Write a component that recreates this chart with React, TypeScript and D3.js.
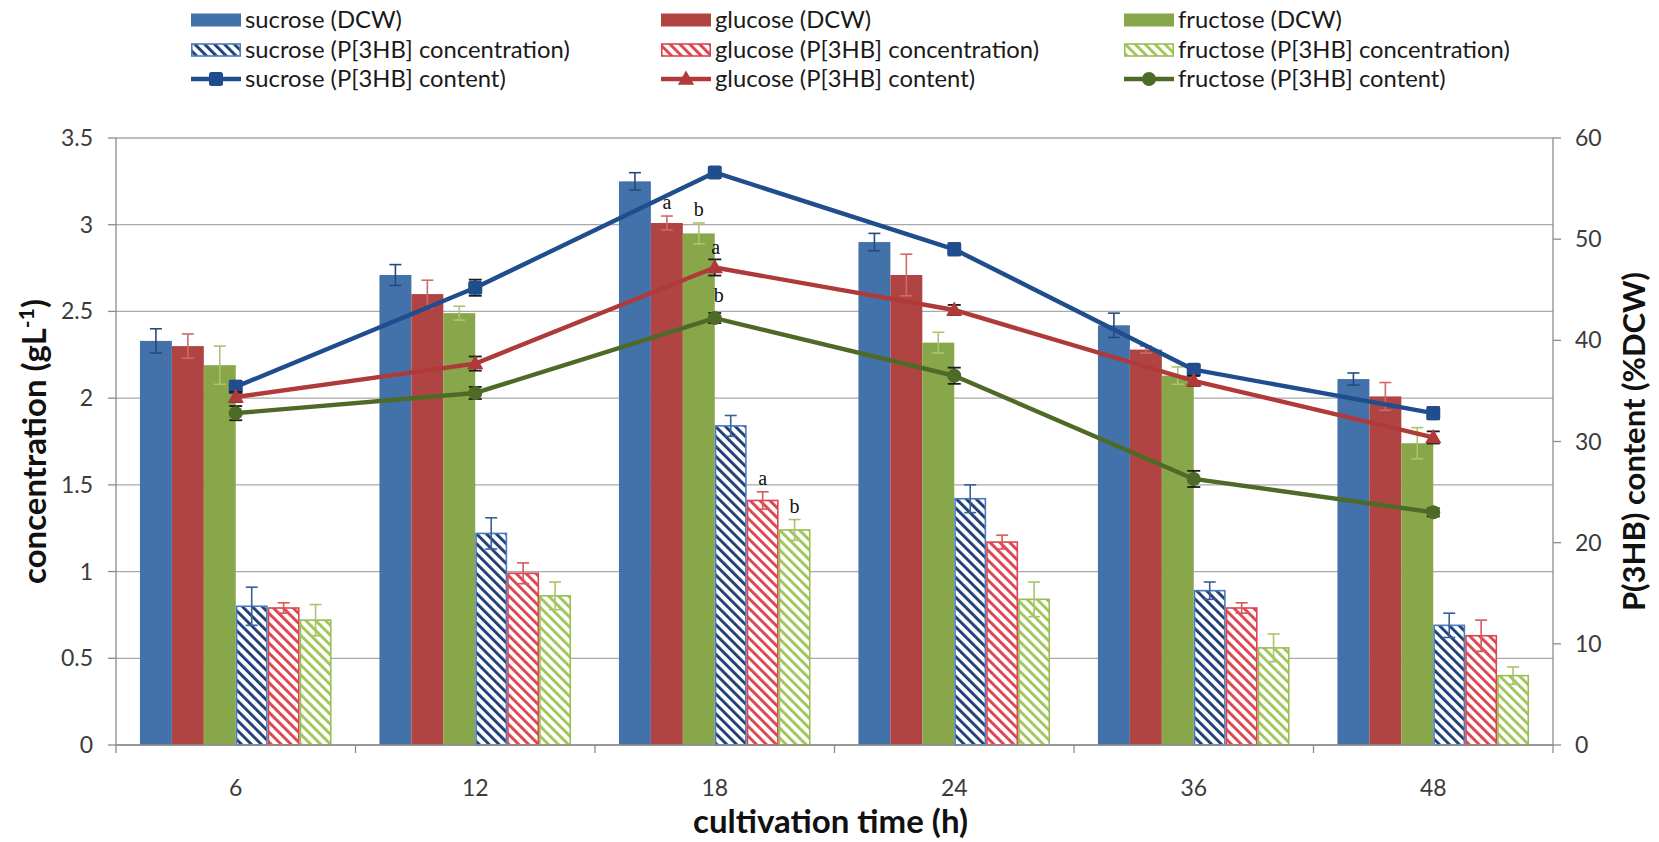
import React from 'react';
import * as d3 from 'd3';

// cultivation time (h)
const categories = ['6', '12', '18', '24', '36', '48'];

// dry cell weight (g/L)
const sucroseDCW = [2.33, 2.71, 3.25, 2.9, 2.42, 2.11];
const sucroseDCWErr = [0.07, 0.06, 0.05, 0.05, 0.07, 0.035];
const glucoseDCW = [2.3, 2.6, 3.01, 2.71, 2.28, 2.01];
const glucoseDCWErr = [0.07, 0.08, 0.04, 0.12, 0.02, 0.08];
const fructoseDCW = [2.19, 2.49, 2.95, 2.32, 2.13, 1.74];
const fructoseDCWErr = [0.11, 0.04, 0.06, 0.06, 0.05, 0.09];

// P[3HB] concentration (g/L)
const sucroseConc = [0.8, 1.22, 1.84, 1.42, 0.89, 0.69];
const sucroseConcErr = [0.11, 0.09, 0.06, 0.08, 0.05, 0.07];
const glucoseConc = [0.79, 0.99, 1.41, 1.17, 0.79, 0.63];
const glucoseConcErr = [0.03, 0.06, 0.05, 0.04, 0.03, 0.09];
const fructoseConc = [0.72, 0.86, 1.24, 0.84, 0.56, 0.4];
const fructoseConcErr = [0.09, 0.08, 0.06, 0.1, 0.08, 0.05];

// P[3HB] content (%DCW)
const sucroseContent = [35.4, 45.2, 56.6, 49.0, 37.1, 32.8];
const sucroseContentErr = [0.6, 0.8, 0.5, 0.6, 0.5, 0.6];
const glucoseContent = [34.4, 37.7, 47.2, 43.0, 36.0, 30.4];
const glucoseContentErr = [0.5, 0.7, 0.8, 0.5, 0.5, 0.6];
const fructoseContent = [32.8, 34.8, 42.2, 36.5, 26.3, 23.0];
const fructoseContentErr = [0.7, 0.6, 0.5, 0.8, 0.8, 0.4];

const leftTicks = [0, 0.5, 1, 1.5, 2, 2.5, 3, 3.5];
const rightTicks = [0, 10, 20, 30, 40, 50, 60];

// significance letters: [kind, series index, category index, text]
const letters: [string, number, number, string][] = [
  ['bar', 1, 2, 'a'],
  ['bar', 2, 2, 'b'],
  ['bar', 4, 2, 'a'],
  ['bar', 5, 2, 'b'],
  ['line', 1, 2, 'a'],
  ['line', 2, 2, 'b'],
];

const W = 1659;
const H = 842;
const plot = { left: 116, right: 1553, top: 138, bottom: 745 };
const FONT = 'Lato, "Open Sans", sans-serif';

const barSeries = [
  { name: 'sucrose (DCW)', values: sucroseDCW, err: sucroseDCWErr, fill: '#4371AA', hatch: null, stroke: null, errColor: '#28497a' },
  { name: 'glucose (DCW)', values: glucoseDCW, err: glucoseDCWErr, fill: '#B04443', hatch: null, stroke: null, errColor: '#cc6a6a' },
  { name: 'fructose (DCW)', values: fructoseDCW, err: fructoseDCWErr, fill: '#88A74B', hatch: null, stroke: null, errColor: '#a9c472' },
  { name: 'sucrose (P[3HB] concentration)', values: sucroseConc, err: sucroseConcErr, fill: null, hatch: '#1F3E78', stroke: '#4A7CC0', errColor: '#3a5f98' },
  { name: 'glucose (P[3HB] concentration)', values: glucoseConc, err: glucoseConcErr, fill: null, hatch: '#DC4550', stroke: '#DC4550', errColor: '#d65a5a' },
  { name: 'fructose (P[3HB] concentration)', values: fructoseConc, err: fructoseConcErr, fill: null, hatch: '#A2C55A', stroke: '#9ABD55', errColor: '#a8c46c' },
];

const lineSeries = [
  { name: 'sucrose (P[3HB] content)', values: sucroseContent, err: sucroseContentErr, color: '#1F4D8D', marker: 'square' },
  { name: 'glucose (P[3HB] content)', values: glucoseContent, err: glucoseContentErr, color: '#B03A3A', marker: 'triangle' },
  { name: 'fructose (P[3HB] content)', values: fructoseContent, err: fructoseContentErr, color: '#4E6A27', marker: 'circle' },
];

function Marker({ type, cx, cy, color }: { type: string; cx: number; cy: number; color: string }) {
  if (type === 'square') return <rect x={cx - 7} y={cy - 7} width={14} height={14} rx={2.5} fill={color} />;
  if (type === 'triangle') {
    const s = d3.symbol().type(d3.symbolTriangle).size(115)();
    return <path d={s || ''} transform={`translate(${cx},${cy + 1})`} fill={color} />;
  }
  return <circle cx={cx} cy={cy} r={7} fill={color} />;
}

function ErrorBar({ cx, y0, y1, color, w = 12, sw = 1.6 }: { cx: number; y0: number; y1: number; color: string; w?: number; sw?: number }) {
  return (
    <g stroke={color} strokeWidth={sw}>
      <line x1={cx} x2={cx} y1={y0} y2={y1} />
      <line x1={cx - w / 2} x2={cx + w / 2} y1={y0} y2={y0} />
      <line x1={cx - w / 2} x2={cx + w / 2} y1={y1} y2={y1} />
    </g>
  );
}

export default function App() {
  const x = d3.scaleBand<string>().domain(categories).range([plot.left, plot.right]).paddingInner(0.2).paddingOuter(0.1);
  const inner = d3.scaleBand<number>().domain(d3.range(barSeries.length)).range([0, x.bandwidth()]);
  const yL = d3.scaleLinear().domain([0, 3.5]).range([plot.bottom, plot.top]);
  const yR = d3.scaleLinear().domain([0, 60]).range([plot.bottom, plot.top]);
  const center = (c: string) => (x(c) as number) + x.bandwidth() / 2;
  const step = x.step();
  const bw = inner.bandwidth();

  const line = d3
    .line<number>()
    .x((_, i) => center(categories[i]))
    .y((v) => yR(v));

  const legendCols = [191, 661, 1124];
  const legendRows = [20, 50, 79];

  return (
    <svg width={W} height={H} style={{ position: 'absolute', left: 0, top: 0, background: '#fff' }} fontFamily={FONT}>
      <defs>
        {barSeries.map((s, i) =>
          s.hatch ? (
            <pattern key={i} id={`hatch${i}`} patternUnits="userSpaceOnUse" width={7} height={7} patternTransform="rotate(-45)">
              <rect width={7} height={7} fill="#fff" />
              <rect width={2.9} height={7} fill={s.hatch} />
            </pattern>
          ) : null
        )}
      </defs>

      {/* gridlines */}
      {leftTicks.map((t) => (
        <line key={t} x1={plot.left} x2={plot.right} y1={yL(t)} y2={yL(t)} stroke="#a9a9a9" strokeWidth={1.3} />
      ))}

      {/* bars */}
      {barSeries.map((s, si) => (
        <g key={s.name}>
          {s.values.map((v, ci) => {
            const bx = (x(categories[ci]) as number) + (inner(si) as number);
            return s.hatch ? (
              <rect key={ci} x={bx + 0.8} y={yL(v)} width={bw - 1.6} height={yL(0) - yL(v)} fill={`url(#hatch${si})`} stroke={s.stroke as string} strokeWidth={1.6} />
            ) : (
              <rect key={ci} x={bx} y={yL(v)} width={bw} height={yL(0) - yL(v)} fill={s.fill as string} />
            );
          })}
        </g>
      ))}

      {/* bar error bars */}
      {barSeries.map((s, si) => (
        <g key={s.name}>
          {s.values.map((v, ci) => {
            const cx = (x(categories[ci]) as number) + (inner(si) as number) + bw / 2;
            return <ErrorBar key={ci} cx={cx} y0={yL(v + s.err[ci])} y1={yL(v - s.err[ci])} color={s.errColor} />;
          })}
        </g>
      ))}

      {/* content lines */}
      {lineSeries.map((s) => (
        <path key={s.name} d={line(s.values) || ''} fill="none" stroke={s.color} strokeWidth={4.4} strokeLinejoin="round" />
      ))}
      {lineSeries.map((s) => (
        <g key={s.name}>
          {s.values.map((v, ci) => (
            <g key={ci}>
              <ErrorBar cx={center(categories[ci])} y0={yR(v + s.err[ci])} y1={yR(v - s.err[ci])} color="#1c1c1c" w={13} sw={1.8} />
              <Marker type={s.marker} cx={center(categories[ci])} cy={yR(v)} color={s.color} />
            </g>
          ))}
        </g>
      ))}

      {/* significance letters */}
      {letters.map(([kind, si, ci, txt], i) => {
        let lx: number;
        let ly: number;
        if (kind === 'bar') {
          const s = barSeries[si];
          lx = (x(categories[ci]) as number) + (inner(si) as number) + bw / 2;
          ly = yL(s.values[ci] + s.err[ci]) - 7;
        } else {
          const s = lineSeries[si];
          lx = center(categories[ci]) + (si === 2 ? 4 : 1);
          ly = yR(s.values[ci] + s.err[ci]) - (si === 2 ? 11 : 5);
        }
        return (
          <text key={i} x={lx} y={ly} textAnchor="middle" fontFamily='"Liberation Serif", "DejaVu Serif", serif' fontSize={20} fill="#111">
            {txt}
          </text>
        );
      })}

      {/* axes */}
      <g stroke="#8c8c8c" strokeWidth={1.3}>
        <line x1={plot.left} x2={plot.left} y1={plot.top} y2={plot.bottom} />
        <line x1={plot.right} x2={plot.right} y1={plot.top} y2={plot.bottom} />
        <line x1={plot.left} x2={plot.right} y1={plot.bottom} y2={plot.bottom} />
        {leftTicks.map((t) => (
          <line key={`l${t}`} x1={plot.left - 8} x2={plot.left} y1={yL(t)} y2={yL(t)} />
        ))}
        {rightTicks.map((t) => (
          <line key={`r${t}`} x1={plot.right} x2={plot.right + 8} y1={yR(t)} y2={yR(t)} />
        ))}
        {d3.range(categories.length + 1).map((i) => (
          <line key={`x${i}`} x1={plot.left + i * step} x2={plot.left + i * step} y1={plot.bottom} y2={plot.bottom + 8} />
        ))}
      </g>

      {/* tick labels */}
      <g fontSize={23} fill="#3b3b3b">
        {leftTicks.map((t) => (
          <text key={t} x={plot.left - 23} y={yL(t)} dy="0.35em" textAnchor="end">
            {t}
          </text>
        ))}
        {rightTicks.map((t) => (
          <text key={t} x={plot.right + 22} y={yR(t)} dy="0.35em" textAnchor="start">
            {t}
          </text>
        ))}
        {categories.map((c) => (
          <text key={c} x={center(c)} y={796} textAnchor="middle">
            {c}
          </text>
        ))}
      </g>

      {/* axis titles */}
      <g fontWeight="bold" fill="#111" fontSize={33}>
        <text x={(plot.left + plot.right) / 2 - 4} y={833} textAnchor="middle">
          cultivation time (h)
        </text>
        <text transform={`translate(46,${(plot.top + plot.bottom) / 2}) rotate(-90)`} textAnchor="middle">
          concentration (gL<tspan dy={-12} fontSize={21}>-1</tspan>
          <tspan dy={12}>)</tspan>
        </text>
        <text transform={`translate(1645,${(plot.top + plot.bottom) / 2}) rotate(-90)`} textAnchor="middle" fontSize={31}>
          P(3HB) content (%DCW)
        </text>
      </g>

      {/* legend */}
      <g fontSize={23.8} fill="#1a1a1a">
        {[0, 1, 2].map((col) => {
          const lx = legendCols[col];
          const solid = barSeries[col];
          const hatched = barSeries[col + 3];
          const ln = lineSeries[col];
          return (
            <g key={col}>
              <rect x={lx} y={legendRows[0] - 6.5} width={50} height={13} fill={solid.fill as string} />
              <text x={lx + 54} y={legendRows[0]} dy="0.35em">{solid.name}</text>
              <rect x={lx + 0.8} y={legendRows[1] - 6} width={48.4} height={12} fill={`url(#hatch${col + 3})`} stroke={hatched.stroke as string} strokeWidth={1.6} />
              <text x={lx + 54} y={legendRows[1]} dy="0.35em">{hatched.name}</text>
              <line x1={lx} x2={lx + 50} y1={legendRows[2]} y2={legendRows[2]} stroke={ln.color} strokeWidth={4.4} />
              <Marker type={ln.marker} cx={lx + 25} cy={legendRows[2]} color={ln.color} />
              <text x={lx + 54} y={legendRows[2]} dy="0.35em">{ln.name}</text>
            </g>
          );
        })}
      </g>
    </svg>
  );
}
